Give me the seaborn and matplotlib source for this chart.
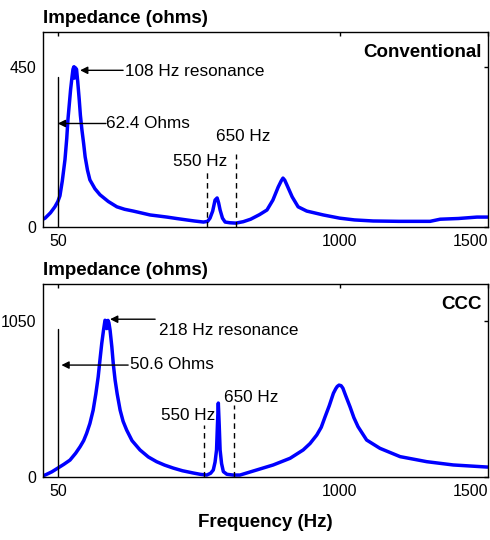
import matplotlib
matplotlib.use("Agg")
import matplotlib.pyplot as plt
import seaborn as sns
import pandas as pd

# ---------------- data ----------------
conv_freq = [0, 7, 25, 40, 50, 57, 65, 74, 80, 84, 89, 93, 98, 101, 104, 106, 108, 113, 117,
             122, 126, 131, 137, 142, 150, 158, 175, 192, 220, 249, 275, 304, 330, 361, 390,
             418, 450, 484, 510, 541, 555, 563, 572, 580, 587, 592, 597, 605, 614, 630, 650,
             675, 700, 730, 755, 775, 793, 803, 809, 815, 822, 840, 860, 889, 945, 1000,
             1050, 1113, 1200, 1305, 1339, 1400, 1463, 1500]
conv_imp = [22, 25, 40, 57, 72, 88, 130, 190, 250, 303, 350, 388, 425, 445, 452, 420, 450, 445,
            410, 360, 315, 275, 235, 198, 160, 133, 108, 91, 72, 57, 50, 45, 40, 34, 31,
            28, 24, 20, 17, 14, 16, 25, 45, 76, 82, 68, 48, 25, 14, 12, 11,
            15, 22, 35, 48, 76, 113, 130, 138, 132, 119, 85, 57, 45, 34, 25,
            20, 17, 16, 16, 22, 24, 28, 28]

ccc_freq = [0, 7, 30, 50, 70, 91, 110, 125, 137, 147, 158, 169, 178, 186, 192, 198, 204, 209,
            213, 215, 217, 219, 222, 226, 232, 237, 243, 250, 260, 270, 282, 300, 327, 355,
            383, 410, 439, 470, 506, 530, 552, 565, 574, 580, 585, 588, 591, 594, 597, 602,
            608, 620, 641, 664, 687, 720, 776, 833, 877, 900, 923, 938, 951, 965, 979, 987,
            992, 998, 1005, 1011, 1020, 1035, 1048, 1062, 1091, 1136, 1204, 1294, 1383, 1497,
            1500]
ccc_imp = [10, 13, 35, 60, 85, 114, 160, 204, 245, 294, 360, 450, 560, 675, 790, 900, 990, 1056,
           1050, 1000, 1040, 1055, 1040, 990, 877, 760, 653, 560, 450, 375, 316, 245, 182, 135,
           103, 80, 60, 42, 27, 18, 13, 25, 47, 100, 182, 350, 498, 350, 182, 90,
           36, 18, 13, 13, 27, 47, 81, 126, 182, 225, 283, 335, 406, 480, 564, 595,
           610, 619, 615, 598, 550, 473, 400, 339, 249, 193, 137, 103, 81, 67,
           67]

panel_names = ["Conventional", "CCC"]
y_ticks = [[0, 450], [0, 1050]]
y_limits = [550, 1300]
x_ticks = [50, 1000, 1500]
x_ticklabels = ["50", "1000", "1500"]
resonance_labels = ["108 Hz resonance", "218 Hz resonance"]
ohm_labels = ["62.4 Ohms", "50.6 Ohms"]

# ---------------- style ----------------
sns.set_style("white")
plt.rcParams["font.family"] = ["Liberation Sans", "DejaVu Sans"]
plt.rcParams["text.color"] = "black"
plt.rcParams["axes.labelcolor"] = "black"

fig = plt.figure(figsize=(4.9, 5.4), dpi=100)
ax_top = fig.add_axes([0.0878, 0.5796, 0.908, 0.3611])
ax_bot = fig.add_axes([0.0878, 0.1167, 0.908, 0.3573])
axes = [ax_top, ax_bot]

data = [(conv_freq, conv_imp), (ccc_freq, ccc_imp)]

# annotation geometry per panel (data coords)
vline_top = [422, 996]
ohm_arrow = [(292, 212, 50), (754, 287, 62)]       # y, tail x, head x
ohm_text = [(212, 292), (293, 760)]
res_arrow = [(442, 270, 125), (1063, 378, 226)]
res_text = [(276, 439), (391, 989)]
dash550 = [(553, 156), (543, 350)]
dash650 = [(650, 207), (644, 485)]
lab550 = [(529, 184), (489, 417)]
lab650 = [(674, 255), (702, 538)]

for i, ax in enumerate(axes):
    f, z = data[i]
    df = pd.DataFrame({"freq": f, "imp": z})
    sns.lineplot(data=df, x="freq", y="imp", ax=ax, color="#0000ff", linewidth=2.5,
                 sort=False, estimator=None)
    ax.set_xlim(0, 1500)
    ax.set_ylim(0, y_limits[i])
    ax.set_xticks(x_ticks)
    ax.set_xticklabels(x_ticklabels)
    ax.get_xticklabels()[-1].set_horizontalalignment("right")
    ax.set_yticks(y_ticks[i])
    ax.set_xlabel("")
    ax.set_ylabel("")
    ax.tick_params(direction="in", length=3, width=1, top=True, right=True,
                   labelsize=11.5, colors="black", pad=5)
    for s in ax.spines.values():
        s.set_visible(True)
        s.set_color("black")
        s.set_linewidth(1)

    ax.text(0.0, 1.025, "Impedance (ohms)", transform=ax.transAxes, ha="left",
            va="bottom", fontsize=13.5, fontweight="bold", color="black")
    ax.text(0.985, 0.94, panel_names[i], transform=ax.transAxes, ha="right",
            va="top", fontsize=13.5, fontweight="bold", color="black")

    # vertical black line at 50 Hz
    ax.plot([50, 50], [0, vline_top[i]], color="black", lw=1)

    # ohm arrow
    y, xt, xh = ohm_arrow[i]
    ax.annotate("", xy=(xh, y), xytext=(xt, y),
                arrowprops=dict(arrowstyle="-|>", color="black", lw=1,
                                mutation_scale=11, shrinkA=0, shrinkB=0))
    ax.text(ohm_text[i][0], ohm_text[i][1], ohm_labels[i], ha="left", va="center",
            fontsize=12.3, color="black")

    # resonance arrow
    y, xt, xh = res_arrow[i]
    ax.annotate("", xy=(xh, y), xytext=(xt, y),
                arrowprops=dict(arrowstyle="-|>", color="black", lw=1,
                                mutation_scale=11, shrinkA=0, shrinkB=0))
    ax.text(res_text[i][0], res_text[i][1], resonance_labels[i], ha="left",
            va="center", fontsize=12.3, color="black")

    # dashed lines
    for (xd, yd) in (dash550[i], dash650[i]):
        ax.plot([xd, xd], [0, yd], color="black", lw=1, ls=(0, (4, 3)))
    ax.text(lab550[i][0], lab550[i][1], "550 Hz", ha="center", va="center",
            fontsize=12.3, color="black")
    ax.text(lab650[i][0], lab650[i][1], "650 Hz", ha="center", va="center",
            fontsize=12.3, color="black")

fig.text(0.541, 0.033, "Frequency (Hz)", ha="center", va="center", fontsize=13.5,
         fontweight="bold", color="black")

fig.savefig("out.png", dpi=100, facecolor="white")
